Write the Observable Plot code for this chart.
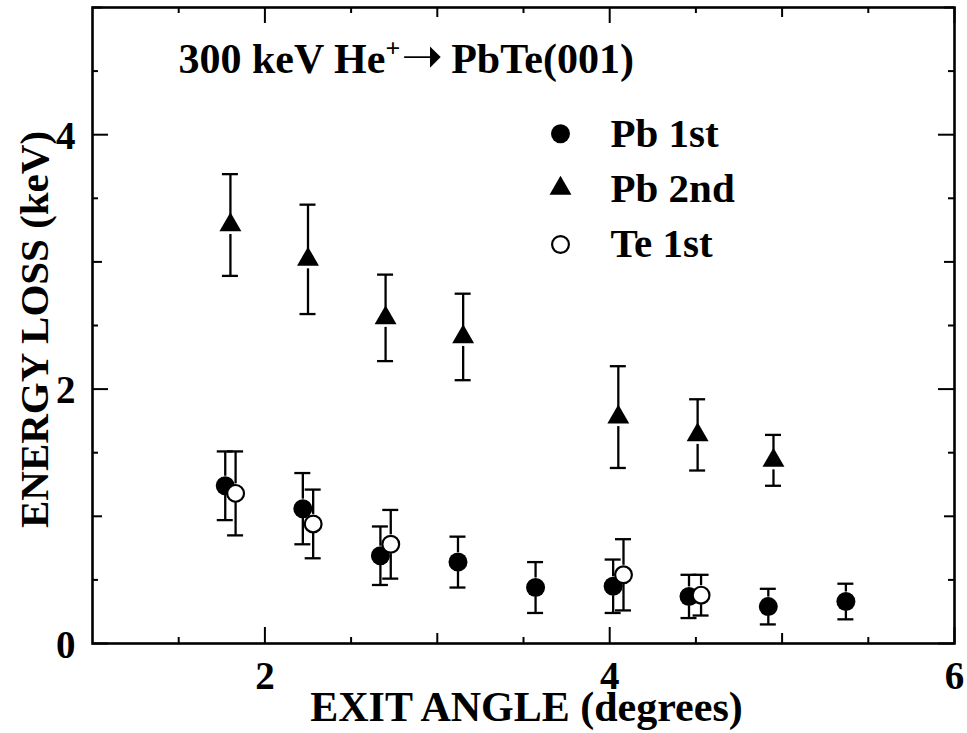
<!DOCTYPE html>
<html>
<head>
<meta charset="utf-8">
<script src="https://cdn.jsdelivr.net/npm/d3@7"></script>
<script src="https://cdn.jsdelivr.net/npm/@observablehq/plot@0.6"></script>
<style>
  html, body { margin: 0; padding: 0; background: #fff; }
  svg { display: block; }
</style>
</head>
<body>
<div id="chart"></div>
<script>
// Energy loss of 300 keV He+ ions scattered from PbTe(001) versus exit angle.

// Pb, first layer (filled circles)
const pb1Angle = [1.77, 2.22, 2.67, 3.12, 3.57, 4.02, 4.46, 4.92, 5.37];
const pb1Loss  = [1.24, 1.06, 0.69, 0.64, 0.44, 0.45, 0.37, 0.29, 0.33];
const pb1Err   = [0.27, 0.28, 0.23, 0.20, 0.20, 0.21, 0.17, 0.14, 0.14];

// Pb, second layer (filled triangles)
const pb2Angle = [1.80, 2.25, 2.70, 3.15, 4.05, 4.51, 4.95];
const pb2Loss  = [3.29, 3.02, 2.56, 2.41, 1.78, 1.64, 1.44];
const pb2Err   = [0.40, 0.43, 0.34, 0.34, 0.40, 0.28, 0.20];

// Te, first layer (open circles)
const te1Angle = [1.83, 2.28, 2.73, 4.08, 4.53];
const te1Loss  = [1.18, 0.94, 0.78, 0.54, 0.38];
const te1Err   = [0.33, 0.27, 0.27, 0.28, 0.16];

// Axis ticks and labels
const xTicksMajor = [2, 4, 6];
const xTicksMid   = [3, 5];
const xTicksMinor = [1.5, 2.5, 3.5, 4.5, 5.5];
const yTicksMajor = [0, 2, 4];
const yTicksMid   = [1, 3, 5];
const yTicksMinor = [0.5, 1.5, 2.5, 3.5, 4.5];
const xTickLabels = [2, 4, 6];
const yTickLabels = [0, 2, 4];
const xLabel = "EXIT ANGLE (degrees)";
const yLabel = "ENERGY LOSS (keV)";
const legendLabels = ["Pb 1st", "Pb 2nd", "Te 1st"];
const titleParts = ["300 keV He", "+", " ", "\u279D", " ", "PbTe(001)"];
const titleText = titleParts.join("");

// Layout
const W = 967, H = 733;
const mL = 92, mR = 13, mT = 7, mB = 90;
const innerW = W - mL - mR, innerH = H - mT - mB;
const font = "Liberation Serif";
const R = 9.5;          // marker half-size, where error bars start
const CAP = 8;          // half width of error-bar caps
const EW = 2.3;         // error-bar stroke width

const rows = (angle, loss, err) =>
  angle.map((a, i) => ({angle: a, loss: loss[i], lo: loss[i] - err[i], hi: loss[i] + err[i]}));
const pb1 = rows(pb1Angle, pb1Loss, pb1Err);
const pb2 = rows(pb2Angle, pb2Loss, pb2Err);
const te1 = rows(te1Angle, te1Loss, te1Err);

function errorBars(data) {
  return [
    Plot.ruleX(data, {x: "angle", y1: "hi", y2: "loss", insetBottom: R, stroke: "black", strokeWidth: EW}),
    Plot.ruleX(data, {x: "angle", y1: "loss", y2: "lo", insetTop: R, stroke: "black", strokeWidth: EW}),
    Plot.ruleY(data, {y: "hi", x1: "angle", x2: "angle", insetLeft: -CAP, insetRight: -CAP, stroke: "black", strokeWidth: EW}),
    Plot.ruleY(data, {y: "lo", x1: "angle", x2: "angle", insetLeft: -CAP, insetRight: -CAP, stroke: "black", strokeWidth: EW})
  ];
}

// Inward-pointing ticks on all four sides
function ticks(xs, ys, len) {
  return [
    Plot.tickX(xs, {x: d => d, insetTop: innerH - len, stroke: "black", strokeWidth: 2}),
    Plot.tickX(xs, {x: d => d, insetBottom: innerH - len, stroke: "black", strokeWidth: 2}),
    Plot.tickY(ys, {y: d => d, insetRight: innerW - len, stroke: "black", strokeWidth: 2}),
    Plot.tickY(ys, {y: d => d, insetLeft: innerW - len, stroke: "black", strokeWidth: 2})
  ];
}

const textStyle = {fontFamily: font, fontWeight: "bold", fill: "black"};

// Legend rows (top-left anchored inside the frame)
const legendX = 468, legendTextX = 518;
const legendY = [126.3, 181, 237];
const legendTextY = [139.7, 194.7, 249.7];

const chart = Plot.plot({
  width: W,
  height: H,
  marginLeft: mL,
  marginRight: mR,
  marginTop: mT,
  marginBottom: mB,
  x: {domain: [1, 6], axis: null},
  y: {domain: [0, 5], axis: null},
  marks: [
    ...ticks(xTicksMajor, yTicksMajor, 16),
    ...ticks(xTicksMid, yTicksMid, 10),
    ...ticks(xTicksMinor, yTicksMinor, 6),
    Plot.frame({stroke: "black", strokeWidth: 2.6}),

    // tick labels
    Plot.text(xTickLabels, {x: d => d, text: d => String(d), frameAnchor: "bottom", textAnchor: "middle", lineAnchor: "bottom", dy: 45, fontSize: 39, ...textStyle}),
    Plot.text(yTickLabels, {y: d => d, text: d => String(d), frameAnchor: "left", textAnchor: "end", lineAnchor: "bottom", dx: -17, dy: 14, fontSize: 39, ...textStyle}),

    // axis titles
    Plot.text([xLabel], {frameAnchor: "bottom", textAnchor: "middle", lineAnchor: "bottom", dx: 3, dy: 77, fontSize: 42, ...textStyle}),
    Plot.text([yLabel], {frameAnchor: "left", textAnchor: "middle", lineAnchor: "bottom", rotate: -90, dx: -45, dy: 4, fontSize: 41, ...textStyle}),

    // data: Pb 2nd
    ...errorBars(pb2),
    Plot.dot(pb2, {x: "angle", y: "loss", symbol: "triangle", r: 8.14, fill: "black", stroke: "none"}),
    // data: Pb 1st
    ...errorBars(pb1),
    Plot.dot(pb1, {x: "angle", y: "loss", symbol: "circle", r: 9.5, fill: "black", stroke: "none"}),
    // data: Te 1st
    ...errorBars(te1),
    Plot.dot(te1, {x: "angle", y: "loss", symbol: "circle", r: 8.4, fill: "white", stroke: "black", strokeWidth: 2.2}),

    // title
    Plot.text([titleText], {frameAnchor: "top-left", textAnchor: "start", lineAnchor: "bottom", dx: 86, dy: 65, fontSize: 42, ...textStyle}),

    // legend
    Plot.dot([legendLabels[0]], {frameAnchor: "top-left", dx: legendX, dy: legendY[0], symbol: "circle", r: 9.5, fill: "black", stroke: "none"}),
    Plot.dot([legendLabels[1]], {frameAnchor: "top-left", dx: legendX, dy: legendY[1], symbol: "triangle", r: 8.14, fill: "black", stroke: "none"}),
    Plot.dot([legendLabels[2]], {frameAnchor: "top-left", dx: legendX, dy: legendY[2], symbol: "circle", r: 8.4, fill: "white", stroke: "black", strokeWidth: 2.2}),
    ...legendLabels.map((label, i) =>
      Plot.text([label], {frameAnchor: "top-left", textAnchor: "start", lineAnchor: "bottom", dx: legendTextX, dy: legendTextY[i], fontSize: 41, ...textStyle}))
  ]
});

// Superscript charge state and arrow glyph in the title
d3.select(chart).selectAll("text")
  .filter(function () { return this.textContent === titleText; })
  .each(function () {
    const t = d3.select(this).style("white-space", "pre");
    t.text(null);
    t.append("tspan").text(titleParts[0]);
    t.append("tspan").attr("font-size", 26).attr("dy", -16).text(titleParts[1]);
    t.append("tspan").attr("dy", 16).attr("font-size", 4).text(titleParts[2]);
    t.append("tspan").attr("font-family", "DejaVu Sans").attr("font-size", 50).attr("font-weight", "normal").text(titleParts[3]);
    t.append("tspan").attr("font-size", 32).text(titleParts[4]);
    t.append("tspan").text(titleParts[5]);
  });

document.getElementById("chart").appendChild(chart);
</script>
</body>
</html>
